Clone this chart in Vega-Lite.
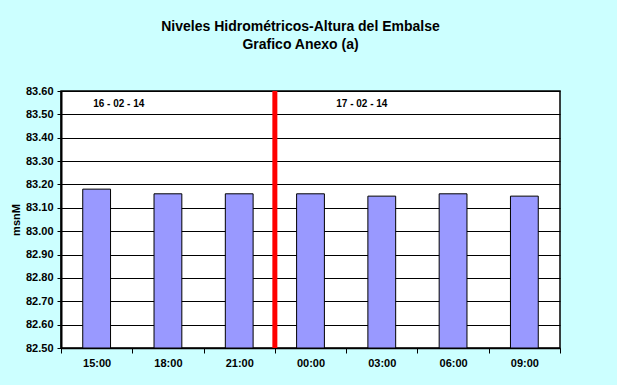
{
  "$schema": "https://vega.github.io/schema/vega-lite/v6.json",
  "width": 499,
  "height": 257,
  "autosize": {"type": "none"},
  "padding": {"left": 61, "top": 91, "right": 57, "bottom": 37},
  "background": "#CCFFFF",
  "title": {
    "text": ["Niveles Hidrométricos-Altura del Embalse", "Grafico Anexo (a)"],
    "font": "Liberation Sans",
    "fontSize": 14,
    "fontWeight": "bold",
    "color": "#000000",
    "lineHeight": 18,
    "anchor": "middle",
    "frame": "group",
    "dx": -10,
    "offset": 33
  },
  "config": {
    "view": {"fill": "#FFFFFF", "stroke": "#000000", "strokeWidth": 1.5},
    "axis": {
      "labelFont": "Liberation Sans",
      "labelFontSize": 11,
      "labelFontWeight": "bold",
      "labelColor": "#000000",
      "titleFont": "Liberation Sans",
      "titleFontSize": 11,
      "titleFontWeight": "bold",
      "titleColor": "#000000",
      "domainColor": "#000000",
      "tickColor": "#000000",
      "gridColor": "#000000",
      "gridOpacity": 1
    },
    "axisX": {
      "title": null, "labelAngle": 0, "tickBand": "extent",
      "tickSize": 5, "labelPadding": 4, "domainWidth": 1.5
    },
    "axisY": {
      "labelOverlap": false, "labelBound": false, "labelFlush": false,
      "format": ".2f", "tickSize": 4, "labelPadding": 4, "titlePadding": 4,
      "gridWidth": 1, "domainWidth": 2
    }
  },
  "data": {
    "values": [
      {"hora": "15:00", "nivel": 83.18},
      {"hora": "18:00", "nivel": 83.16},
      {"hora": "21:00", "nivel": 83.16},
      {"hora": "00:00", "nivel": 83.16},
      {"hora": "03:00", "nivel": 83.15},
      {"hora": "06:00", "nivel": 83.16},
      {"hora": "09:00", "nivel": 83.15}
    ]
  },
  "layer": [
    {
      "mark": {"type": "bar", "fill": "#9999FF", "stroke": "#000000", "strokeWidth": 1, "width": {"band": 0.39}},
      "encoding": {
        "x": {
          "field": "hora", "type": "nominal", "sort": null,
          "scale": {"paddingInner": 0, "paddingOuter": 0},
          "axis": {"title": null}
        },
        "y": {
          "field": "nivel", "type": "quantitative",
          "scale": {"domain": [82.5, 83.6], "zero": false, "nice": false},
          "axis": {
            "title": "msnM",
            "values": [82.5, 82.6, 82.7, 82.8, 82.9, 83.0, 83.1, 83.2, 83.3, 83.4, 83.5, 83.6]
          }
        },
        "y2": {"datum": 82.5}
      }
    },
    {
      "data": {"values": [{"hora": "21:00"}]},
      "mark": {"type": "rule", "color": "#FF0000", "strokeWidth": 5},
      "encoding": {
        "x": {"field": "hora", "type": "nominal", "sort": null, "bandPosition": 1, "axis": {"title": null}}
      }
    },
    {
      "data": {"values": [{"hora": "15:00", "etiqueta": "16 - 02 - 14", "nivel": 83.545}]},
      "mark": {"type": "text", "font": "Liberation Sans", "fontSize": 10, "fontWeight": 900, "color": "#000000"},
      "encoding": {
        "x": {"field": "hora", "type": "nominal", "sort": null, "bandPosition": 0.81, "axis": {"title": null}},
        "y": {
          "field": "nivel", "type": "quantitative",
          "axis": {
            "title": "msnM",
            "values": [82.5, 82.6, 82.7, 82.8, 82.9, 83.0, 83.1, 83.2, 83.3, 83.4, 83.5, 83.6]
          }
        },
        "text": {"field": "etiqueta"}
      }
    },
    {
      "data": {"values": [{"hora": "03:00", "etiqueta": "17 - 02 - 14", "nivel": 83.545}]},
      "mark": {"type": "text", "font": "Liberation Sans", "fontSize": 10, "fontWeight": 900, "color": "#000000"},
      "encoding": {
        "x": {"field": "hora", "type": "nominal", "sort": null, "bandPosition": 0.22, "axis": {"title": null}},
        "y": {
          "field": "nivel", "type": "quantitative",
          "axis": {
            "title": "msnM",
            "values": [82.5, 82.6, 82.7, 82.8, 82.9, 83.0, 83.1, 83.2, 83.3, 83.4, 83.5, 83.6]
          }
        },
        "text": {"field": "etiqueta"}
      }
    }
  ]
}
